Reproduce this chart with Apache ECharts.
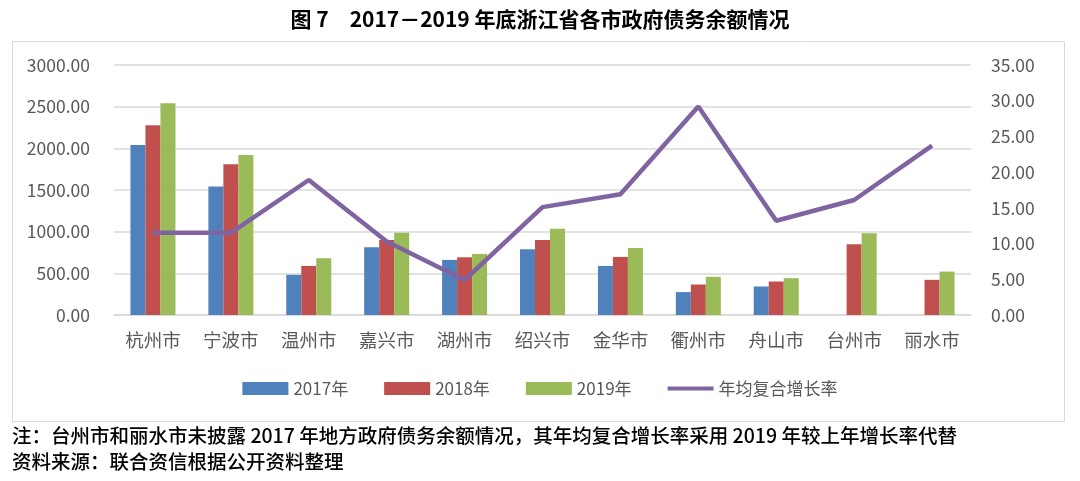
<!DOCTYPE html>
<html>
<head>
<meta charset="utf-8">
<script src="https://cdn.jsdelivr.net/npm/echarts@6/dist/echarts.min.js"></script>
<style>
html,body{margin:0;padding:0;background:#fff;}
#c{width:1080px;height:481px;}
</style>
</head>
<body>
<div id="c"></div>
<script>
const categories = ['杭州市','宁波市','温州市','嘉兴市','湖州市','绍兴市','金华市','衢州市','舟山市','台州市','丽水市'];
const debt2017 = [2040, 1542, 482, 813, 661, 789, 589, 275, 342, null, null];
const debt2018 = [2278, 1808, 589, 900, 693, 900, 697, 366, 402, 849, 422];
const debt2019 = [2541, 1920, 681, 987, 733, 1035, 804, 458, 442, 980, 521];
const cagr = [11.5, 11.5, 18.9, 10.3, 4.9, 15.1, 16.9, 29.2, 13.2, 16.1, 23.7];
const leftTicks = {min: 0, max: 3000, interval: 500};
const rightTicks = {min: 0, max: 35, interval: 5};

const FONT = '"Noto Sans CJK SC", "Noto Sans", sans-serif';
const chart = echarts.init(document.getElementById('c'), null, {renderer: 'canvas'});
const labelColor = '#595959';
chart.setOption({
  animation: false,
  backgroundColor: '#fff',
  textStyle: {fontFamily: FONT},
  title: {
    text: '图 7　2017－2019 年底浙江省各市政府债务余额情况',
    left: 'center',
    top: 4,
    textStyle: {fontFamily: FONT, fontSize: 21, fontWeight: 'bold', color: '#000'}
  },
  graphic: [
    {type: 'rect', shape: {x: 12.5, y: 41.5, width: 1052, height: 380},
     style: {fill: 'none', stroke: '#d9d9d9', lineWidth: 1}, z: -1},
    {type: 'text', left: 12, top: 426,
     style: {text: '注：台州市和丽水市未披露 2017 年地方政府债务余额情况，其年均复合增长率采用 2019 年较上年增长率代替',
       font: '500 19.5px ' + FONT, fill: '#000'}},
    {type: 'text', left: 12, top: 452,
     style: {text: '资料来源：联合资信根据公开资料整理', font: '500 19.5px ' + FONT, fill: '#000'}}
  ],
  legend: {
    top: 375,
    left: 'center',
    itemWidth: 46,
    itemHeight: 13,
    itemGap: 36,
    textStyle: {fontSize: 17, color: labelColor, fontFamily: FONT},
    data: [
      {name: '2017年', icon: 'rect'},
      {name: '2018年', icon: 'rect'},
      {name: '2019年', icon: 'rect'},
      {name: '年均复合增长率', icon: 'path://M0,0 M0,4.5 L46,4.5 L46,8.5 L0,8.5 Z M46,13'}
    ]
  },
  grid: {left: 114, right: 109, top: 65, bottom: 166, containLabel: false},
  xAxis: {
    type: 'category',
    data: categories,
    axisLine: {lineStyle: {color: '#d9d9d9', width: 1.5}},
    axisTick: {show: false},
    axisLabel: {fontSize: 18.5, color: labelColor, margin: 16, fontFamily: FONT}
  },
  yAxis: [
    {
      type: 'value', min: leftTicks.min, max: leftTicks.max, interval: leftTicks.interval,
      axisLine: {show: false}, axisTick: {show: false},
      splitLine: {lineStyle: {color: '#d9d9d9', width: 1.5}},
      axisLabel: {fontSize: 17.5, color: labelColor, margin: 24, formatter: v => v.toFixed(2), fontFamily: FONT}
    },
    {
      type: 'value', min: rightTicks.min, max: rightTicks.max, interval: rightTicks.interval,
      axisLine: {show: false}, axisTick: {show: false},
      splitLine: {show: false},
      axisLabel: {fontSize: 17.5, color: labelColor, margin: 20, formatter: v => v.toFixed(2), fontFamily: FONT}
    }
  ],
  series: [
    {name: '2017年', type: 'bar', data: debt2017, barWidth: 15, barGap: '0%', itemStyle: {color: '#4F81BD'}},
    {name: '2018年', type: 'bar', data: debt2018, barWidth: 15, barGap: '0%', itemStyle: {color: '#C0504D'}},
    {name: '2019年', type: 'bar', data: debt2019, barWidth: 15, barGap: '0%', itemStyle: {color: '#9BBB59'}},
    {name: '年均复合增长率', type: 'line', yAxisIndex: 1, data: cagr, showSymbol: false, symbol: 'none',
     lineStyle: {color: '#8064A2', width: 4.5}, itemStyle: {color: '#8064A2'}, z: 5}
  ]
});
</script>
</body>
</html>
